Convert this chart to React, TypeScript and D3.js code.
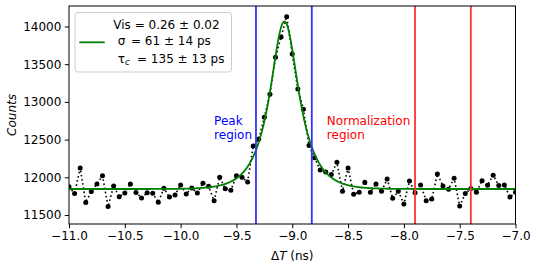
import React, { useEffect, useRef } from "react";
import * as d3 from "d3";

// time bins: -11.0 ns .. -7.0 ns, 0.05 ns apart
const binStart = -11;
const binWidth = 0.05;
const counts = [
  11876, 11785, 12124, 11667, 11813, 11913, 12020, 11612, 11886, 11742,
  11793, 11913, 11798, 11727, 11795, 11789, 11669, 11855, 11738, 11766,
  11897, 11778, 11857, 11793, 11921, 11880, 11688, 12002, 11847, 11828,
  12020, 12002, 11938, 12415, 12508, 12796, 13101, 13591, 13862, 14130,
  13635, 13171, 12902, 12422, 12260, 12097, 12070, 12036, 12199, 11816,
  12125, 11776, 11803, 11934, 11803, 11911, 11814, 11977, 11721, 11814,
  11646, 11950, 11796, 11898, 11690, 11712, 12044, 11885, 11843, 11987,
  11619, 11786, 11852, 11801, 11956, 11894, 12029, 11891, 11898, 11739,
  11801,
];

// fit result
const fitBaseline = 11845;
const fitVis = 0.26;
const fitSigma = 0.061; // ns
const fitTau = 0.135; // ns
const fitCenter = -9.07;

const peakRegion = [-9.325, -8.825];
const normRegion = [-7.9, -7.4];

const xTicks = [-11, -10.5, -10, -9.5, -9, -8.5, -8, -7.5, -7];
const yTicks = [11500, 12000, 12500, 13000, 13500, 14000];

const legendLines = ["Vis = 0.26 ± 0.02", "= 61 ± 14 ps", "= 135 ± 13 ps"];

const W = 536;
const H = 270;
const margin = { top: 6, right: 20.5, bottom: 46, left: 69 };
const font = "DejaVu Sans, sans-serif";

// exp(-|t|/tau) convolved with a unit gaussian of width sigma
function shape(d: number) {
  let sum = 0;
  let wsum = 0;
  const n = 200;
  for (let k = 0; k <= n; k++) {
    const s = -5 * fitSigma + (10 * fitSigma * k) / n;
    const w = Math.exp(-(s * s) / (2 * fitSigma * fitSigma));
    sum += w * Math.exp(-Math.abs(d - s) / fitTau);
    wsum += w;
  }
  return sum / wsum;
}

export default function App() {
  const ref = useRef<SVGSVGElement>(null);

  useEffect(() => {
    const svg = d3.select(ref.current);
    svg.selectAll("*").remove();

    const x = d3
      .scaleLinear()
      .domain([-11, -7])
      .range([margin.left, W - margin.right]);
    const y = d3
      .scaleLinear()
      .domain([11381, 14272])
      .range([H - margin.bottom, margin.top]);

    const pts = counts.map((c, i) => [binStart + i * binWidth, c] as [number, number]);

    const clip = svg
      .append("defs")
      .append("clipPath")
      .attr("id", "plot")
      .append("rect")
      .attr("x", margin.left)
      .attr("y", margin.top)
      .attr("width", W - margin.left - margin.right)
      .attr("height", H - margin.top - margin.bottom);

    const g = svg.append("g").attr("clip-path", "url(#plot)");

    const line = d3
      .line<[number, number]>()
      .x((d) => x(d[0]))
      .y((d) => y(d[1]));

    g.append("path")
      .attr("d", line(pts))
      .attr("fill", "none")
      .attr("stroke", "black")
      .attr("stroke-width", 1.6)
      .attr("stroke-dasharray", "1.6,2.6");

    g.selectAll("circle")
      .data(pts)
      .enter()
      .append("circle")
      .attr("cx", (d) => x(d[0]))
      .attr("cy", (d) => y(d[1]))
      .attr("r", 2.5)
      .attr("fill", "black");

    const fit = d3
      .range(-11, -6.999, 0.004)
      .map((t) => [t, fitBaseline * (1 + fitVis * shape(t - fitCenter))] as [number, number]);
    g.append("path")
      .attr("d", line(fit))
      .attr("fill", "none")
      .attr("stroke", "green")
      .attr("stroke-width", 1.8);

    const vlines = [
      ...peakRegion.map((v) => ({ v, c: "#3333ff" })),
      ...normRegion.map((v) => ({ v, c: "#ff3333" })),
    ];
    g.selectAll(".vl")
      .data(vlines)
      .enter()
      .append("line")
      .attr("x1", (d) => x(d.v))
      .attr("x2", (d) => x(d.v))
      .attr("y1", margin.top)
      .attr("y2", H - margin.bottom)
      .attr("stroke", (d) => d.c)
      .attr("stroke-width", 1.8);

    // region labels
    const addLabel = (xv: number, text: string[], color: string) => {
      const t = svg
        .append("text")
        .attr("font-family", font)
        .attr("font-size", 12)
        .attr("fill", color);
      text.forEach((s, i) =>
        t
          .append("tspan")
          .attr("x", x(xv))
          .attr("y", 124.5 + i * 14)
          .text(s)
      );
    };
    addLabel(-9.7, ["Peak", "region"], "#0000ff");
    addLabel(-8.69, ["Normalization", "region"], "#ff0000");

    // axes
    const xAxis = d3
      .axisBottom(x)
      .tickValues(xTicks)
      .tickSize(4.2)
      .tickPadding(3.5)
      .tickFormat((d) => d3.format(".1f")(d as number).replace("-", "−"));
    svg
      .append("g")
      .attr("transform", `translate(0,${H - margin.bottom})`)
      .call(xAxis)
      .call((s) => s.select(".domain").remove());

    const yAxis = d3
      .axisLeft(y)
      .tickValues(yTicks)
      .tickSize(4.2)
      .tickPadding(3.5)
      .tickFormat((d) => String(d));
    svg
      .append("g")
      .attr("transform", `translate(${margin.left},0)`)
      .call(yAxis)
      .call((s) => s.select(".domain").remove());

    svg
      .selectAll(".tick text")
      .attr("font-family", font)
      .attr("font-size", 12)
      .attr("fill", "black");
    svg.selectAll(".tick line").attr("stroke", "black").attr("stroke-width", 1);

    svg
      .append("rect")
      .attr("x", margin.left)
      .attr("y", margin.top)
      .attr("width", W - margin.left - margin.right)
      .attr("height", H - margin.top - margin.bottom)
      .attr("fill", "none")
      .attr("stroke", "black")
      .attr("stroke-width", 1);

    // axis titles
    const xl = svg
      .append("text")
      .attr("x", (margin.left + W - margin.right) / 2)
      .attr("y", 259.5)
      .attr("text-anchor", "middle")
      .attr("font-family", font)
      .attr("font-size", 12);
    xl.append("tspan").text("Δ");
    xl.append("tspan").attr("font-style", "italic").text("T");
    xl.append("tspan").text(" (ns)");

    svg
      .append("text")
      .attr("transform", `translate(16,${(margin.top + H - margin.bottom) / 2}) rotate(-90)`)
      .attr("text-anchor", "middle")
      .attr("font-family", font)
      .attr("font-style", "italic")
      .attr("font-size", 12)
      .text("Counts");

    // legend
    const lg = svg.append("g");
    lg.append("rect")
      .attr("x", 75)
      .attr("y", 12.5)
      .attr("width", 156.5)
      .attr("height", 59.5)
      .attr("rx", 3)
      .attr("fill", "white")
      .attr("fill-opacity", 0.8)
      .attr("stroke", "#cccccc")
      .attr("stroke-width", 1);
    lg.append("line")
      .attr("x1", 79.3)
      .attr("x2", 104.7)
      .attr("y1", 42.3)
      .attr("y2", 42.3)
      .attr("stroke", "green")
      .attr("stroke-width", 1.8);
    const lt = (xp: number, yp: number, s: string, size = 12, italic = false) =>
      lg
        .append("text")
        .attr("x", xp)
        .attr("y", yp)
        .attr("font-family", font)
        .attr("font-size", size)
        .attr("font-style", italic ? "italic" : "normal")
        .text(s);
    lt(113.3, 28.7, legendLines[0]);
    lt(117.7, 44.7, "σ");
    lt(131, 44.7, legendLines[1]);
    lt(117.7, 62.7, "τ");
    lt(125, 65, "c", 8.5, true);
    lt(137, 62.7, legendLines[2]);
  }, []);

  return (
    <svg
      ref={ref}
      width={W}
      height={H}
      style={{ position: "absolute", left: 0, top: 0, background: "white" }}
    />
  );
}
